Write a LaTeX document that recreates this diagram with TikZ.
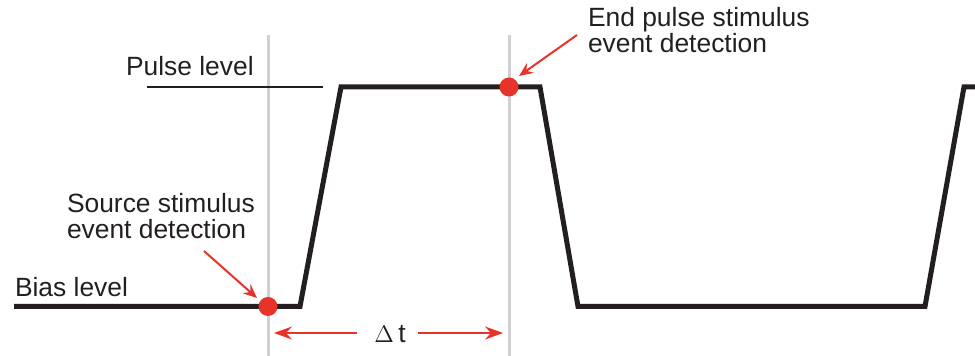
\documentclass[tikz,border=0pt]{standalone}
\usepackage{fontspec}
\setmainfont{Liberation Sans}
\usetikzlibrary{arrows.meta}
\definecolor{wave}{HTML}{231F20}
\definecolor{pred}{HTML}{E8332A}
\definecolor{guide}{HTML}{D0D0D0}
\begin{document}
\begin{tikzpicture}[x=0.5pt,y=-0.5pt,
  lbl/.style={inner sep=0pt,outer sep=0pt,text=wave,font=\fontsize{13.2pt}{13pt}\selectfont,align=left},
  guideline/.style={draw=guide,line width=1.5pt},
  wavelinestyle/.style={draw=wave,line width=2.5pt,line join=miter},
  redarrow/.style={draw=pred,line width=1pt,-{Stealth[length=7pt,width=6pt,inset=2.5pt]}},
  dtarrow/.style={draw=pred,line width=1pt,-{Stealth[length=9pt,width=6.5pt,inset=3pt]}},
  evdot/.style={circle,fill=pred,inner sep=0pt,minimum size=9.5pt}]
\useasboundingbox (0,0) rectangle (975,356);
% guide lines
\coordinate (g1t) at (268,35); \coordinate (g1b) at (268,356);
\coordinate (g2t) at (509,35); \coordinate (g2b) at (509,356);
\draw[guideline] (g1t) -- (g1b);
\draw[guideline] (g2t) -- (g2b);
% pulse level reference line
\coordinate (pl1) at (147,87); \coordinate (pl2) at (323,87);
\draw[draw=wave,line width=1pt] (pl1) -- (pl2);
% waveform
\coordinate (w0) at (14,306.5);
\coordinate (w1) at (300,306.5);
\coordinate (w2) at (341,87);
\coordinate (w3) at (540,87);
\coordinate (w4) at (578,306.5);
\coordinate (w5) at (925,306.5);
\coordinate (w6) at (964,87);
\coordinate (w7) at (980,87);
\begin{scope}
\clip (0,0) rectangle (975,356);
\draw[wavelinestyle] (w0) -- (w1) -- (w2) -- (w3) -- (w4) -- (w5) -- (w6) -- (w7);
\end{scope}
% event dots
\node[evdot] (d1) at (268,306.5) {};
\node[evdot] (d2) at (509,87) {};
% labels
\node[lbl,anchor=base west] (pulse) at (126,76) {Pulse level};
\node[lbl,anchor=base west] (bias) at (15,297) {Bias level};
\node[lbl,anchor=base west] (src) at (67,239) {Source stimulus\\event detection};
\node[lbl,anchor=base west] (endp) at (588,53) {End pulse stimulus\\event detection};
% event arrows
\coordinate (a1s) at (204,251); \coordinate (a1e) at (257,298);
\draw[redarrow] (a1s) -- (a1e);
\coordinate (a2s) at (577,35); \coordinate (a2e) at (519,76);
\draw[redarrow] (a2s) -- (a2e);
% delta t
\node[lbl,anchor=base] (dt) at (390,343) {$\Delta$\,t};
\coordinate (dl1) at (357,333); \coordinate (dl2) at (274,333);
\coordinate (dr1) at (418,333); \coordinate (dr2) at (503,333);
\draw[dtarrow] (dl1) -- (dl2);
\draw[dtarrow] (dr1) -- (dr2);
\end{tikzpicture}
\end{document}
